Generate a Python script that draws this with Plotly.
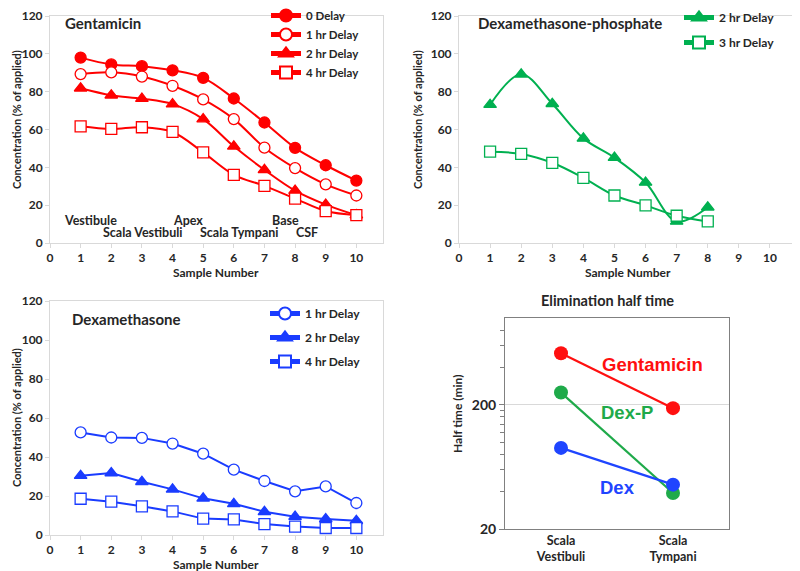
import plotly.graph_objects as go

# ---------------- data ----------------
samples = [1, 2, 3, 4, 5, 6, 7, 8, 9, 10]
gent_0h = [98.0, 94.4, 93.5, 91.3, 87.3, 76.4, 63.7, 50.3, 41.1, 33.0]
gent_1h = [89.3, 90.2, 88.0, 83.1, 75.9, 65.5, 50.4, 39.6, 31.0, 25.1]
gent_2h = [81.8, 78.1, 76.3, 73.4, 65.5, 51.1, 38.7, 27.7, 20.3, 14.7]
gent_4h = [61.7, 60.3, 61.2, 58.7, 47.9, 36.0, 30.2, 23.5, 16.9, 14.7]

dexp_samples = [1, 2, 3, 4, 5, 6, 7, 8]
dexp_2h = [73.1, 89.2, 73.6, 55.3, 45.1, 32.0, 11.4, 18.9]
dexp_3h = [48.3, 47.1, 42.4, 34.4, 25.1, 19.9, 14.4, 11.4]

dex_1h = [52.6, 50.0, 49.8, 46.9, 41.7, 33.5, 27.7, 22.4, 24.9, 16.4]
dex_2h = [30.4, 31.8, 27.3, 23.4, 18.8, 16.0, 11.9, 9.4, 8.2, 7.3]
dex_4h = [18.6, 17.1, 14.7, 12.1, 8.4, 8.0, 5.6, 4.3, 3.6, 3.6]

region_labels_top = ["Vestibule", "Apex", "Base"]
region_labels_top_x = [1.33, 4.5, 7.7]
region_labels_bot = ["Scala Vestibuli", "Scala Tympani", "CSF"]
region_labels_bot_x = [3.05, 6.2, 8.4]

scalae = ["Scala<br>Vestibuli", "Scala<br>Tympani"]
half_gent = [520, 188]
half_dexp = [251, 39]
half_dex = [90, 45.5]

RED = "#FF0000"
GREEN = "#00B050"
BLUE = "#1A3CFF"
FONT = "Lato"
TXT = "#262626"

fig = go.Figure()

def add(x, y, name, color, symbol, filled, xa, ya, legend, shape, group):
    fig.add_trace(go.Scatter(
        x=x, y=y, name=name, mode="lines+markers",
        line=dict(color=color, width=2, shape=shape),
        marker=dict(symbol=symbol, size=11,
                    color=color if filled else "white",
                    line=dict(color=color, width=1.3)),
        xaxis=xa, yaxis=ya, legend=legend, legendgroup=group,
    ))

# Gentamicin
add(samples, gent_0h, "0 Delay", RED, "circle", True, "x", "y", "legend", "spline", "g0")
add(samples, gent_1h, "1 hr Delay", RED, "circle", False, "x", "y", "legend", "spline", "g1")
add(samples, gent_2h, "2 hr Delay", RED, "triangle-up", True, "x", "y", "legend", "spline", "g2")
add(samples, gent_4h, "4 hr Delay", RED, "square", False, "x", "y", "legend", "spline", "g4")
# Dex-P
add(dexp_samples, dexp_2h, "2 hr Delay", GREEN, "triangle-up", True, "x2", "y2", "legend2", "spline", "p2")
add(dexp_samples, dexp_3h, "3 hr Delay", GREEN, "square", False, "x2", "y2", "legend2", "spline", "p3")
# Dex
add(samples, dex_1h, "1 hr Delay", BLUE, "circle", False, "x3", "y3", "legend3", "linear", "d1")
add(samples, dex_2h, "2 hr Delay", BLUE, "triangle-up", True, "x3", "y3", "legend3", "linear", "d2")
add(samples, dex_4h, "4 hr Delay", BLUE, "square", False, "x3", "y3", "legend3", "linear", "d4")

# Elimination half time
for vals, col in [(half_gent, "#FF1010"), (half_dexp, "#1FAA4A"), (half_dex, "#1F45FF")]:
    fig.add_trace(go.Scatter(x=scalae, y=vals, mode="lines+markers",
                             line=dict(color=col, width=2.2),
                             marker=dict(size=14, color=col),
                             xaxis="x4", yaxis="y4", showlegend=False))

# The page body has an 8px margin: figure is 792x563 placed at (8, 8) of the window.
OFF = 8
W, H = 792, 563
def fx(s):
    return (s - OFF) / W
def fy(s):
    return 1 - (s - OFF) / H
def px_x(a, b):
    return [fx(a), fx(b)]
def px_y(top, bottom):
    return [fy(bottom), fy(top)]

LIGHT = "#d9d9d9"
tickfont = dict(family=FONT, size=12, color=TXT, weight="bold")

def lin_x(domain, anchor):
    return dict(domain=domain, anchor=anchor, range=[0, 10.87], dtick=1, tick0=0,
                showgrid=False, zeroline=False, showline=True, linecolor=LIGHT,
                mirror=True, ticks="outside", ticklen=4, tickcolor=LIGHT,
                tickfont=tickfont, automargin=False, ticklabeloverflow="allow")

def lin_y(domain, anchor):
    return dict(domain=domain, anchor=anchor, range=[0, 120], dtick=20,
                showgrid=False, zeroline=False, showline=True, linecolor=LIGHT,
                mirror=True, ticks="outside", ticklen=4, tickcolor=LIGHT,
                tickfont=tickfont, automargin=False, ticklabeloverflow="allow")

def legfont(s):
    return dict(family=FONT, size=s, color=TXT, weight="bold")

fig.update_layout(
    width=W, height=H, margin=dict(l=0, r=0, t=0, b=0, autoexpand=False),
    paper_bgcolor="white", plot_bgcolor="white",
    xaxis=lin_x(px_x(50, 383), "y"), yaxis=lin_y(px_y(16, 243), "x"),
    xaxis2=lin_x(px_x(459, 797), "y2"), yaxis2=lin_y(px_y(16, 243), "x2"),
    xaxis3=lin_x(px_x(50, 383), "y3"), yaxis3=lin_y(px_y(301, 535), "x3"),
    xaxis4=dict(domain=px_x(505, 729), anchor="y4", type="category", range=[-0.5, 1.5],
                showgrid=False, zeroline=False, showline=True, linecolor="#808080",
                mirror=True, ticks="", automargin=False,
                tickfont=dict(family=FONT, size=12.5, color=TXT, weight="bold")),
    yaxis4=dict(domain=px_y(318, 529), anchor="x4", type="log",
                range=[1.30103, 3.0], tickmode="array", tickvals=[20, 200],
                ticktext=["20", "200"], showgrid=True, gridcolor="#d9d9d9",
                zeroline=False, showline=True, linecolor="#808080", mirror=True,
                ticks="outside", ticklen=5, tickcolor="#808080", automargin=False,
                tickfont=dict(family=FONT, size=14, color=TXT, weight="bold"),
                minor=dict(tickmode="array",
                           tickvals=[40, 60, 80, 100, 120, 140, 160, 180, 400, 600, 800],
                           ticks="outside", ticklen=4, tickcolor="#808080", showgrid=False)),
    legend=dict(x=fx(266), y=fy(1), xanchor="left", yanchor="top", itemsizing="constant",
                bgcolor="rgba(0,0,0,0)", font=legfont(11.5), tracegroupgap=0, itemwidth=30),
    legend2=dict(x=fx(679), y=fy(3), xanchor="left", yanchor="top", itemsizing="constant",
                 bgcolor="rgba(0,0,0,0)", font=legfont(12), tracegroupgap=6, itemwidth=30),
    legend3=dict(x=fx(265), y=fy(299), xanchor="left", yanchor="top", itemsizing="constant",
                 bgcolor="rgba(0,0,0,0)", font=legfont(12), tracegroupgap=5, itemwidth=30),
)

annotations = []
def paper_text(text, x, y, size, xanchor="center", angle=0, color=TXT, family=FONT):
    annotations.append(dict(text=text, x=fx(x), y=fy(y), xref="paper", yref="paper",
                            showarrow=False, xanchor=xanchor, yanchor="middle",
                            textangle=angle,
                            font=dict(family=family, size=size, color=color, weight="bold")))

paper_text("Gentamicin", 63, 23, 15, xanchor="left")
paper_text("Dexamethasone-phosphate", 476, 23, 15, xanchor="left")
paper_text("Dexamethasone", 70, 319, 15, xanchor="left")
paper_text("Elimination half time", 607, 300, 14.5)
for xc in (216, 628):
    paper_text("Sample Number", xc, 273, 12)
paper_text("Sample Number", 216, 564, 12)
paper_text("Concentration (% of applied)", 16, 120, 11, angle=-90)
paper_text("Concentration (% of applied)", 417, 120, 11, angle=-90)
paper_text("Concentration (% of applied)", 16, 418, 11, angle=-90)
paper_text("Half time (min)", 457, 414, 12, angle=-90)

for t, xv in zip(region_labels_top, region_labels_top_x):
    annotations.append(dict(text=t, x=xv, y=11.8, xref="x", yref="y", showarrow=False,
                            font=dict(family=FONT, size=12.5, color=TXT, weight="bold")))
for t, xv in zip(region_labels_bot, region_labels_bot_x):
    annotations.append(dict(text=t, x=xv, y=5.3, xref="x", yref="y", showarrow=False,
                            font=dict(family=FONT, size=12.5, color=TXT, weight="bold")))

for t, xv, yv, col in [("Gentamicin", 0.8125, 2.624, "#FF1010"),
                       ("Dex-P", 0.589, 2.236, "#1FAA4A"),
                       ("Dex", 0.5, 1.632, "#1F45FF")]:
    annotations.append(dict(text=t, x=xv, y=yv, xref="x4", yref="y4", showarrow=False,
                            font=dict(family="Liberation Sans", size=18.5, color=col, weight="bold")))

fig.update_layout(annotations=annotations)
fig.write_html("out.html")
